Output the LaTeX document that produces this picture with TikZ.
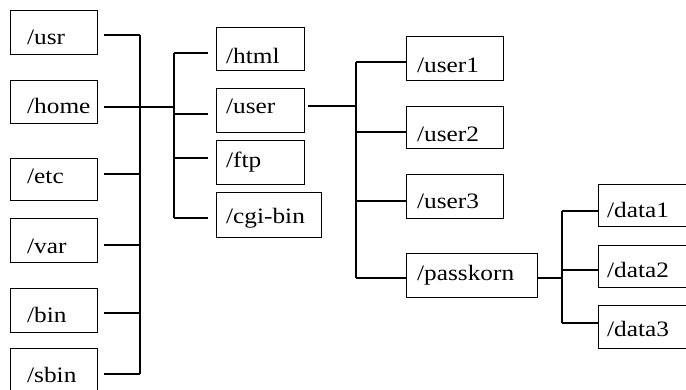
\documentclass[tikz,border=0pt]{standalone}
\usepackage{fontspec}
\setmainfont{Liberation Serif}[FakeStretch=1.15]
\begin{document}
\begin{tikzpicture}[x=1pt,y=-1pt,
  box/.style={draw, line width=1.4pt, anchor=north west, inner sep=0pt, rectangle},
  txt/.style={anchor=base west, inner sep=0pt, font=\fontsize{22}{24}\selectfont},
  conn/.style={line width=1.4pt}]
\useasboundingbox (0,0) rectangle (686,389);
\clip (0,0) rectangle (686,389);
\fill[white] (0,0) rectangle (686,389);
% column 1
\node[box, minimum width=87pt, minimum height=44pt] (usr)  at (10,10)  {};
\node[box, minimum width=87pt, minimum height=43pt] (home) at (10,80)  {};
\node[box, minimum width=87pt, minimum height=42pt] (etc)  at (10,158) {};
\node[box, minimum width=87pt, minimum height=44pt] (var)  at (10,218) {};
\node[box, minimum width=87pt, minimum height=44pt] (bin)  at (10,288) {};
\node[box, minimum width=87pt, minimum height=44pt] (sbin) at (10,348) {};
\node[txt] (usr-t)  at (27,44)  {/usr};
\node[txt] (home-t) at (27,113) {/home};
\node[txt] (etc-t)  at (27,183) {/etc};
\node[txt] (var-t)  at (27,253) {/var};
\node[txt] (bin-t)  at (27,322) {/bin};
\node[txt] (sbin-t) at (27,382) {/sbin};
% column 2
\node[box, minimum width=88pt,  minimum height=43pt] (html) at (216,27)  {};
\node[box, minimum width=88pt,  minimum height=44pt] (user) at (216,88)  {};
\node[box, minimum width=88pt,  minimum height=44pt] (ftp)  at (216,140) {};
\node[box, minimum width=105pt, minimum height=45pt] (cgi)  at (216,192) {};
\node[txt] (html-t) at (226,63)  {/html};
\node[txt] (user-t) at (226,113) {/user};
\node[txt] (ftp-t)  at (226,167) {/ftp};
\node[txt] (cgi-t)  at (226,223) {/cgi-bin};
% column 3
\node[box, minimum width=97pt,  minimum height=44pt] (user1) at (406,36)  {};
\node[box, minimum width=97pt,  minimum height=42pt] (user2) at (406,106) {};
\node[box, minimum width=97pt,  minimum height=44pt] (user3) at (406,174) {};
\node[box, minimum width=131pt, minimum height=44pt] (pass)  at (406,253) {};
\node[txt] (user1-t) at (417,72)  {/user1};
\node[txt] (user2-t) at (417,141) {/user2};
\node[txt] (user3-t) at (417,208) {/user3};
\node[txt] (pass-t)  at (417,280) {/passkorn};
% column 4
\node[box, minimum width=110pt, minimum height=42pt] (data1) at (598,184) {};
\node[box, minimum width=110pt, minimum height=42pt] (data2) at (598,245) {};
\node[box, minimum width=110pt, minimum height=43pt] (data3) at (598,305) {};
\node[txt] (data1-t) at (607,217) {/data1};
\node[txt] (data2-t) at (607,277) {/data2};
\node[txt] (data3-t) at (607,336) {/data3};
% junctions
\coordinate (j-usr)  at (140,35);
\coordinate (j-home) at (140,107);
\coordinate (j-etc)  at (140,174);
\coordinate (j-var)  at (140,245);
\coordinate (j-bin)  at (140,313);
\coordinate (j-sbin) at (140,374);
\coordinate (k-home) at (174,107);
\coordinate (k-html) at (174,53);
\coordinate (k-user) at (174,114);
\coordinate (k-ftp)  at (174,158);
\coordinate (k-cgi)  at (174,218);
\coordinate (m-user)  at (356,106);
\coordinate (m-user1) at (356,62);
\coordinate (m-user2) at (356,132);
\coordinate (m-user3) at (356,201);
\coordinate (m-pass)  at (356,278);
\coordinate (n-pass) at (562,278);
\coordinate (n-d1)   at (562,211);
\coordinate (n-d2)   at (562,270);
\coordinate (n-d3)   at (562,323);
% connectors
\draw[conn] (j-usr) -- (j-sbin);
\draw[conn] (usr.east |- j-usr) ++(6,0) -- (j-usr);
\draw[conn] (home.east |- j-home) ++(6,0) -- (k-home);
\draw[conn] (etc.east |- j-etc) ++(6,0) -- (j-etc);
\draw[conn] (var.east |- j-var) ++(6,0) -- (j-var);
\draw[conn] (bin.east |- j-bin) ++(6,0) -- (j-bin);
\draw[conn] (sbin.east |- j-sbin) ++(6,0) -- (j-sbin);
\draw[conn] (k-html) -- (k-cgi);
\draw[conn] (html.west |- k-html) ++(-8,0) -- (k-html);
\draw[conn] (user.west |- k-user) ++(-8,0) -- (k-user);
\draw[conn] (ftp.west |- k-ftp) ++(-8,0) -- (k-ftp);
\draw[conn] (cgi.west |- k-cgi) ++(-8,0) -- (k-cgi);
\draw[conn] (user.east |- m-user) ++(3,0) -- (m-user);
\draw[conn] (m-user1) -- (m-pass);
\draw[conn] (m-user1) -- (user1.west |- m-user1);
\draw[conn] (m-user2) -- (user2.west |- m-user2);
\draw[conn] (m-user3) -- (user3.west |- m-user3);
\draw[conn] (m-pass) -- (pass.west |- m-pass);
\draw[conn] (pass.east |- n-pass) -- (n-pass);
\draw[conn] (n-d1) -- (n-d3);
\draw[conn] (n-d1) -- (data1.west |- n-d1);
\draw[conn] (n-d2) -- (data2.west |- n-d2);
\draw[conn] (n-d3) -- (data3.west |- n-d3);
\end{tikzpicture}
\end{document}
